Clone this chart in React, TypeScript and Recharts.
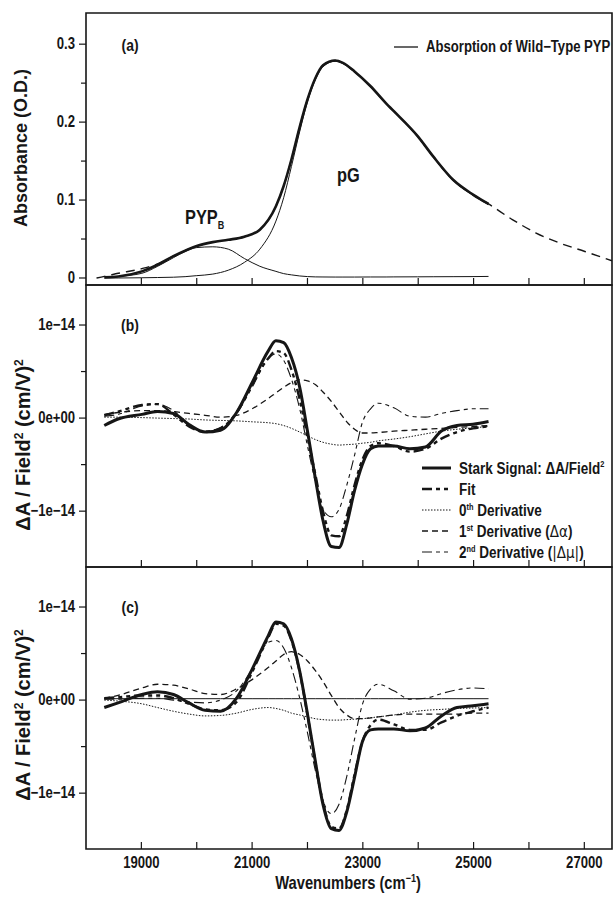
import { Line, LineChart, ReferenceArea, XAxis, YAxis } from "recharts";

const FONT = '"Liberation Sans", Arial, sans-serif';
const INK = "#161616";
const SQUEEZE = 0.82; // narrow bold look of the original lettering

const waveDomain = [18000, 27500];
const waveTicks = [19000, 20000, 21000, 22000, 23000, 24000, 25000, 26000, 27000];
const waveTickLabels = ["19000", "", "21000", "", "23000", "", "25000", "", "27000"];

const absDomain = [-0.009, 0.34];
const absTicks = [0, 0.05, 0.1, 0.15, 0.2, 0.25, 0.3];
const absTickLabels = ["0", "", "0.1", "", "0.2", "", "0.3"];

// stark values are in units of 1e-14 (cm/V)^2
const starkDomain = [-1.6, 1.43];
const starkTicks = [-1, -0.5, 0, 0.5, 1];
const starkTickLabels = ["\u22121e\u221214", "", "0e+00", "", "1e\u221214"];

// panel (a): absorption
const absWave = [18190, 18333, 18582, 19009, 19294, 19578, 19790, 20000, 20290, 20570, 20860, 21140, 21430, 21570, 21710, 21860, 22000, 22140, 22280, 22500, 22640, 22850, 23140, 23420, 23560, 23990, 24270, 24630, 24990, 25270, 25700, 26120, 26550, 27010, 27500];
const absorbance = [null, 0.001, 0.002, 0.0085, 0.017, 0.028, 0.035, 0.041, 0.046, 0.049, 0.053, 0.062, 0.092, 0.118, 0.152, 0.194, 0.229, 0.256, 0.273, 0.279, 0.276, 0.265, 0.246, 0.224, 0.214, 0.182, 0.156, 0.126, 0.107, 0.095, null, null, null, null, null];
const absFit = [0.0, 0.002, 0.006, 0.012, 0.018, 0.028, 0.035, 0.041, 0.046, 0.049, 0.053, 0.062, 0.092, 0.118, 0.152, 0.194, 0.229, 0.256, 0.273, 0.279, 0.276, 0.265, 0.246, 0.224, 0.214, 0.182, 0.156, 0.126, 0.107, 0.095, 0.075, 0.058, 0.045, 0.034, 0.022];
const pypBBand = [null, 0.0, 0.002, 0.006, 0.015, 0.026, 0.034, 0.039, 0.04, 0.037, 0.025, 0.015, 0.0085, 0.0056, 0.004, 0.0026, 0.0018, 0.0014, 0.0013, 0.0012, 0.0012, 0.0012, 0.0013, 0.0013, 0.0014, 0.0015, 0.0016, 0.0017, 0.0018, 0.002, null, null, null, null, null];
const pGBand = [null, 0.0, 0.0, 0.0003, 0.0006, 0.001, 0.0017, 0.003, 0.005, 0.01, 0.02, 0.037, 0.073, 0.103, 0.143, 0.188, 0.226, 0.254, 0.271, 0.278, 0.275, 0.264, 0.245, 0.223, 0.213, 0.181, 0.155, 0.125, 0.106, 0.094, null, null, null, null, null];

// panels (b) and (c): Stark spectra
const starkWave = [18330, 18580, 19010, 19290, 19580, 19860, 20150, 20430, 20720, 21000, 21290, 21430, 21570, 21710, 21860, 22000, 22140, 22280, 22430, 22570, 22710, 22850, 22990, 23140, 23280, 23560, 23850, 24130, 24420, 24700, 24990, 25270];

const starkB = [-0.08, -0.01, 0.04, 0.07, 0.05, -0.07, -0.15, -0.13, 0.06, 0.38, 0.72, 0.83, 0.81, 0.65, 0.33, -0.14, -0.64, -1.1, -1.38, -1.39, -1.14, -0.78, -0.5, -0.33, -0.3, -0.3, -0.33, -0.31, -0.14, -0.08, -0.065, -0.036];
const fitB = [0.03, 0.07, 0.14, 0.15, 0.04, -0.09, -0.15, -0.11, 0.06, 0.36, 0.64, 0.72, 0.7, 0.52, 0.2, -0.2, -0.6, -1.0, -1.26, -1.27, -1.05, -0.72, -0.45, -0.3, -0.27, -0.3, -0.36, -0.33, -0.22, -0.15, -0.11, -0.09];
const zerothB = [0.01, 0.01, 0.005, 0.0, -0.005, -0.01, -0.02, -0.025, -0.03, -0.04, -0.05, -0.06, -0.08, -0.11, -0.15, -0.19, -0.23, -0.26, -0.28, -0.29, -0.285, -0.28, -0.27, -0.26, -0.245, -0.225, -0.2, -0.17, -0.14, -0.12, -0.105, -0.09];
const firstB = [0.04, 0.06, 0.08, 0.08, 0.07, 0.05, 0.03, 0.01, 0.03, 0.1, 0.21, 0.27, 0.33, 0.38, 0.41, 0.4, 0.36, 0.28, 0.18, 0.07, -0.04, -0.12, -0.16, -0.16, -0.155, -0.14, -0.13, -0.12, -0.11, -0.1, -0.09, -0.08];
const secondB = [0.02, 0.04, 0.13, 0.15, 0.08, -0.08, -0.14, -0.1, 0.05, 0.33, 0.64, 0.69, 0.62, 0.42, 0.1, -0.3, -0.68, -0.98, -1.06, -0.98, -0.72, -0.4, -0.05, 0.1, 0.16, 0.11, 0.02, 0.01, 0.05, 0.08, 0.1, 0.1];

const starkC = [-0.08, -0.03, 0.06, 0.09, 0.06, -0.03, -0.11, -0.12, 0.02, 0.33, 0.69, 0.84, 0.82, 0.66, 0.31, -0.15, -0.65, -1.12, -1.38, -1.4, -1.2, -0.83, -0.45, -0.32, -0.31, -0.31, -0.33, -0.3, -0.17, -0.08, -0.06, -0.04];
const fitC = [0.02, 0.03, 0.05, 0.05, 0.02, -0.04, -0.1, -0.11, -0.02, 0.3, 0.67, 0.82, 0.8, 0.64, 0.3, -0.16, -0.66, -1.1, -1.36, -1.38, -1.18, -0.8, -0.45, -0.27, -0.21, -0.26, -0.32, -0.32, -0.24, -0.17, -0.12, -0.08];
const zerothC = [0.0, -0.01, -0.04, -0.08, -0.12, -0.15, -0.17, -0.165, -0.14, -0.1, -0.08, -0.09, -0.11, -0.14, -0.16, -0.18, -0.2, -0.21, -0.215, -0.215, -0.21, -0.205, -0.2, -0.19, -0.18, -0.16, -0.13, -0.11, -0.1, -0.09, -0.085, -0.08];
const firstC = [0.02, 0.05, 0.13, 0.17, 0.16, 0.12, 0.07, 0.06, 0.12, 0.22, 0.35, 0.42, 0.49, 0.52, 0.49, 0.42, 0.32, 0.2, 0.05, -0.08, -0.16, -0.2, -0.2, -0.19, -0.18, -0.16, -0.15, -0.15, -0.15, -0.15, -0.14, -0.14];
const secondC = [0.01, 0.01, 0.02, 0.02, 0.0, -0.02, -0.03, 0.0, 0.1, 0.33, 0.62, 0.64, 0.56, 0.35, 0.02, -0.35, -0.75, -1.08, -1.22, -1.12, -0.82, -0.42, -0.05, 0.12, 0.17, 0.1, 0.01, 0.02, 0.07, 0.11, 0.13, 0.12];
const levelC = [0.015, 0.015, 0.015, 0.015, 0.015, 0.015, 0.015, 0.015, 0.015, 0.015, 0.015, 0.015, 0.015, 0.015, 0.015, 0.015, 0.015, 0.015, 0.015, 0.015, 0.015, 0.015, 0.015, 0.015, 0.015, 0.015, 0.015, 0.015, 0.015, 0.015, 0.015, 0.015];

const rowsA = absWave.map((w, i) => ({ w, abs: absorbance[i], fit: absFit[i], pypB: pypBBand[i], pG: pGBand[i] }));
const rowsB = starkWave.map((w, i) => ({ w, stark: starkB[i], fit: fitB[i], d0: zerothB[i], d1: firstB[i], d2: secondB[i] }));
const rowsC = starkWave.map((w, i) => ({ w, level: levelC[i], stark: starkC[i], fit: fitC[i], d0: zerothC[i], d1: firstC[i], d2: secondC[i] }));

const styles = {
  abs: { width: 2.6, dash: undefined },
  absFit: { width: 1.4, dash: "9 6" },
  band: { width: 1, dash: undefined },
  stark: { width: 3, dash: undefined },
  fit: { width: 2.4, dash: "10 4 4 4 4 4" },
  d0: { width: 1, dash: "1.5 1.5" },
  d1: { width: 1.3, dash: "6 4" },
  d2: { width: 1.1, dash: "10 4 4 4 4 4" },
};

const seriesA = [
  { key: "pypB", ...styles.band },
  { key: "pG", ...styles.band },
  { key: "fit", ...styles.absFit },
  { key: "abs", ...styles.abs },
];
const seriesB = [
  { key: "d0", ...styles.d0 },
  { key: "d1", ...styles.d1 },
  { key: "d2", ...styles.d2 },
  { key: "fit", ...styles.fit },
  { key: "stark", ...styles.stark },
];
const seriesC = [{ key: "level", ...styles.band }, ...seriesB];

// condensed bold label
function NText({ x, y, size, anchor = "start", children }: any) {
  return (
    <text
      transform={`translate(${x} ${y}) scale(${SQUEEZE} 1)`}
      textAnchor={anchor}
      fontFamily={FONT}
      fontWeight="bold"
      fontSize={size}
      fill={INK}
    >
      {children}
    </text>
  );
}

function WaveTick(props: any) {
  const { x, y, index, showLabel } = props;
  const label = waveTickLabels[index];
  return (
    <g>
      <line x1={x} x2={x} y1={y} y2={y - 7} stroke={INK} strokeWidth={1.2} />
      {showLabel && label ? (
        <NText x={x} y={y + 19} size={16} anchor="middle">
          {label}
        </NText>
      ) : null}
    </g>
  );
}

function ValueTick(props: any) {
  const { x, y, index, labels } = props;
  const label = labels[index];
  return (
    <g>
      <line x1={x - (label ? 7 : 5)} x2={x} y1={y} y2={y} stroke={INK} strokeWidth={1.2} />
      {label ? (
        <NText x={x - 11} y={y + 5} size={16} anchor="end">
          {label}
        </NText>
      ) : null}
    </g>
  );
}

function Panel({ top, height, rows, series, yDomain, yTicks, yLabels, bottom }: any) {
  return (
    <div style={{ position: "absolute", left: 0, top }}>
      <LineChart
        width={615}
        height={height}
        data={rows}
        margin={{ top: 5, right: 3, bottom: 0, left: 0 }}
        style={{ overflow: "visible" }}
      >
        <XAxis
          type="number"
          dataKey="w"
          domain={waveDomain}
          ticks={waveTicks}
          interval={0}
          allowDataOverflow
          axisLine={false}
          tickLine={false}
          tickSize={0}
          tickMargin={0}
          height={bottom ? 51 : 5}
          tick={(p: any) => <WaveTick {...p} showLabel={bottom} />}
        />
        <YAxis
          type="number"
          domain={yDomain}
          ticks={yTicks}
          interval={0}
          allowDataOverflow
          width={86}
          axisLine={false}
          tickLine={false}
          tickSize={0}
          tickMargin={0}
          tick={(p: any) => <ValueTick {...p} labels={yLabels} />}
        />
        <ReferenceArea
          x1={waveDomain[0]}
          x2={waveDomain[1]}
          y1={yDomain[0]}
          y2={yDomain[1]}
          fill="none"
          fillOpacity={0}
          stroke={INK}
          strokeWidth={1.6}
          ifOverflow="visible"
        />
        {series.map((s: any) => (
          <Line
            key={s.key}
            dataKey={s.key}
            type="monotone"
            stroke={INK}
            strokeWidth={s.width}
            strokeDasharray={s.dash}
            dot={false}
            activeDot={false}
            connectNulls={false}
            isAnimationActive={false}
          />
        ))}
      </LineChart>
    </div>
  );
}

function LegendSample({ x, y, s }: any) {
  return <line x1={x} x2={x + 29} y1={y} y2={y} stroke={INK} strokeWidth={s.width} strokeDasharray={s.dash} />;
}

const legendRows = [
  { s: styles.stark, y: 468 },
  { s: styles.fit, y: 489 },
  { s: styles.d0, y: 510 },
  { s: styles.d1, y: 531 },
  { s: styles.d2, y: 552 },
];

function Overlay() {
  return (
    <svg width={615} height={900} style={{ position: "absolute", left: 0, top: 0, pointerEvents: "none" }}>
      <g fill={INK} fontWeight="bold">
        {/* axis titles */}
        <text x={27} y={148} transform="rotate(-90 27 148)" textAnchor="middle" fontFamily={FONT} fontSize={18}>
          Absorbance (O.D.)
        </text>
        {[445, 715].map((cy) => (
          <text key={cy} x={30} y={cy} transform={`rotate(-90 30 ${cy})`} textAnchor="middle" fontFamily={FONT} fontSize={20}>
            ΔA / Field<tspan dy={-7} fontSize={12}>2</tspan>
            <tspan dy={7}> (cm/V)</tspan>
            <tspan dy={-7} fontSize={12}>2</tspan>
          </text>
        ))}
        <NText x={348} y={889} size={18} anchor="middle">
          Wavenumbers (cm<tspan dy={-7} fontSize={11}>−1</tspan>
          <tspan dy={7}>)</tspan>
        </NText>

        {/* panel tags */}
        <NText x={130} y={51} size={17} anchor="middle">(a)</NText>
        <NText x={130} y={331} size={17} anchor="middle">(b)</NText>
        <NText x={130} y={613} size={17} anchor="middle">(c)</NText>

        {/* band annotations */}
        <NText x={185} y={224} size={20}>
          PYP<tspan dy={5} fontSize={11}>B</tspan>
        </NText>
        <NText x={337} y={182} size={20}>pG</NText>

        {/* legend (a) */}
        <line x1={394} x2={418} y1={47} y2={47} stroke={INK} strokeWidth={1.3} />
        <NText x={426} y={52} size={16}>Absorption of Wild−Type PYP</NText>

        {/* legend (b) */}
        {legendRows.map((r, i) => (
          <LegendSample key={i} x={422} y={r.y} s={r.s} />
        ))}
        <NText x={459} y={474} size={16.5}>
          Stark Signal: ΔA/Field<tspan dy={-7} fontSize={9}>2</tspan>
        </NText>
        <NText x={459} y={495} size={16.5}>Fit</NText>
        <NText x={459} y={516} size={16.5}>
          0<tspan dy={-6} fontSize={9}>th</tspan>
          <tspan dy={6}> Derivative</tspan>
        </NText>
        <NText x={459} y={537} size={16.5}>
          1<tspan dy={-6} fontSize={9}>st</tspan>
          <tspan dy={6}> Derivative (</tspan>
          <tspan fontWeight="normal" fontFamily="DejaVu Sans">Δα</tspan>)
        </NText>
        <NText x={459} y={558} size={16.5}>
          2<tspan dy={-6} fontSize={9}>nd</tspan>
          <tspan dy={6}> Derivative (</tspan>
          <tspan fontWeight="normal" fontFamily="DejaVu Sans">|Δμ|</tspan>)
        </NText>
      </g>
    </svg>
  );
}

export default function App() {
  return (
    <div style={{ position: "absolute", left: 0, top: 0, width: 615, height: 900, background: "#fff" }}>
      <Panel top={8} height={282} rows={rowsA} series={seriesA} yDomain={absDomain} yTicks={absTicks} yLabels={absTickLabels} bottom={false} />
      <Panel top={280} height={292} rows={rowsB} series={seriesB} yDomain={starkDomain} yTicks={starkTicks} yLabels={starkTickLabels} bottom={false} />
      <Panel top={562} height={338} rows={rowsC} series={seriesC} yDomain={starkDomain} yTicks={starkTicks} yLabels={starkTickLabels} bottom={true} />
      <Overlay />
    </div>
  );
}
